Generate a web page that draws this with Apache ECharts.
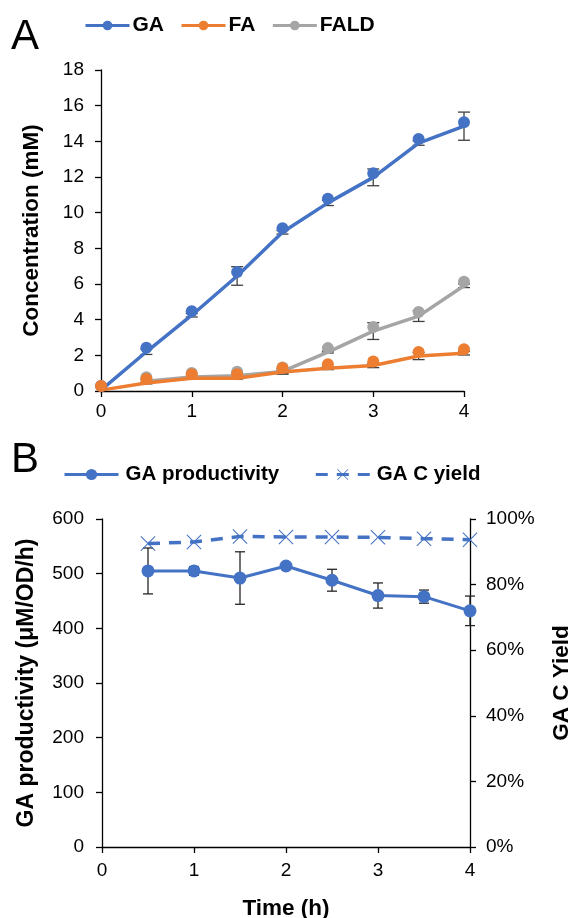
<!DOCTYPE html>
<html>
<head>
<meta charset="utf-8">
<script src="https://cdn.jsdelivr.net/npm/echarts@6/dist/echarts.min.js"></script>
<style>html,body{margin:0;padding:0;background:#fff;}#c{width:571px;height:918px;}</style>
</head>
<body>
<div id="c"></div>
<script>
// Panel A data
const timeA = [0, 0.5, 1, 1.5, 2, 2.5, 3, 3.5, 4];
const gaMean = [0.05, 2.2, 4.25, 6.45, 8.9, 10.55, 11.98, 13.9, 14.85];
const gaErr = [0, 0.15, 0.1, 0.52, 0.1, 0.15, 0.47, 0.12, 0.79];
const faMean = [0.05, 0.45, 0.72, 0.72, 1.06, 1.28, 1.43, 1.96, 2.12];
const faErr = [0, 0.05, 0.05, 0.05, 0.1, 0.08, 0.12, 0.2, 0.1];
const faldMean = [null, 0.55, 0.78, 0.85, 1.1, 2.18, 3.36, 4.2, 5.9];
const faldErr = [0, 0.1, 0.05, 0.15, 0.15, 0.05, 0.47, 0.3, 0.1];
// Panel B data
const timeB = [0.5, 1, 1.5, 2, 2.5, 3, 3.5, 4];
const prodB = [505, 505, 492, 514, 488, 460, 458, 432];
const prodErrB = [42, 8, 48, 6, 20, 23, 12, 27];
const yieldB = [0.925, 0.93, 0.947, 0.945, 0.945, 0.944, 0.94, 0.937];
const ticksA_y = [0, 18, 2];
const ticksB_left = [0, 600, 100];
const ticksB_right = [0, 1, 0.2];

const FONT = "'Liberation Sans', Arial, sans-serif";
const BLUE = '#4472C4', ORANGE = '#ED7D31', GRAY = '#A5A5A5';

function pairs(xs, ys) { return xs.map((x, i) => [x, ys[i]]); }
function errData(xs, m, e) {
  const out = [];
  xs.forEach((x, i) => { if (m[i] != null && e[i] > 0) out.push([x, m[i] - e[i], m[i] + e[i]]); });
  return out;
}
function errSeries(data, xi, yi, color, capW) {
  return {
    type: 'custom', xAxisIndex: xi, yAxisIndex: yi, z: 1, silent: true,
    encode: { x: 0, y: [1, 2] },
    data: data,
    renderItem: function (params, api) {
      const x = api.value(0), lo = api.value(1), hi = api.value(2);
      const p1 = api.coord([x, hi]), p2 = api.coord([x, lo]);
      const st = { stroke: color, lineWidth: 1.3 };
      return {
        type: 'group', children: [
          { type: 'line', shape: { x1: p1[0], y1: p1[1], x2: p2[0], y2: p2[1] }, style: st },
          { type: 'line', shape: { x1: p1[0] - capW, y1: p1[1], x2: p1[0] + capW, y2: p1[1] }, style: st },
          { type: 'line', shape: { x1: p2[0] - capW, y1: p2[1], x2: p2[0] + capW, y2: p2[1] }, style: st }
        ]
      };
    }
  };
}

const axisLine = { show: true, lineStyle: { color: '#000', width: 1.3 } };
const axisTick = { show: true, length: 6, inside: false, lineStyle: { color: '#000', width: 1.3 } };
const labelStyle = { color: '#000', fontFamily: FONT, fontSize: 19 };
const nameStyleA = { color: '#000', fontFamily: FONT, fontSize: 22.5, fontWeight: 'bold' };
const nameStyleB = { color: '#000', fontFamily: FONT, fontSize: 23, fontWeight: 'bold' };

const X_PATH = 'path://M0,1L1,0L10,9L19,0L20,1L11,10L20,19L19,20L10,11L1,20L0,19L9,10Z';

const option = {
  animation: false,
  backgroundColor: '#fff',
  graphic: [
    { type: 'text', left: 11, top: 16, style: { text: 'A', fontFamily: FONT, fontSize: 42, fill: '#000' } },
    { type: 'text', left: 11, top: 439, style: { text: 'B', fontFamily: FONT, fontSize: 42, fill: '#000' } }
  ],
  legend: [
    {
      left: 79, top: 10, itemWidth: 44, itemHeight: 12, itemGap: 16,
      lineStyle: { width: 3 },
      textStyle: { color: '#000', fontFamily: FONT, fontSize: 21, fontWeight: 'bold', padding: [0, 0, 0, -2] },
      data: ['GA', 'FA', 'FALD']
    },
    {
      left: 58, top: 459, itemWidth: 54, itemHeight: 14, itemGap: 35,
      lineStyle: { width: 3 },
      textStyle: { color: '#000', fontFamily: FONT, fontSize: 20.5, fontWeight: 'bold', padding: [0, 0, 0, 2] },
      data: ['GA productivity', 'GA C yield']
    }
  ],
  grid: [
    { left: 101, top: 70, width: 363, height: 321, containLabel: false, outerBoundsMode: 'none' },
    { left: 102, top: 519, width: 368, height: 328, containLabel: false, outerBoundsMode: 'none' }
  ],
  xAxis: [
    {
      type: 'value', gridIndex: 0, min: 0, max: 4, interval: 1,
      axisLine: axisLine, axisTick: axisTick, splitLine: { show: false },
      axisLabel: Object.assign({ margin: 11 }, labelStyle)
    },
    {
      type: 'value', gridIndex: 1, min: 0, max: 4, interval: 1,
      axisLine: axisLine, axisTick: axisTick, splitLine: { show: false },
      axisLabel: Object.assign({ margin: 14 }, labelStyle),
      name: 'Time (h)', nameLocation: 'middle', nameGap: 50, nameTextStyle: nameStyleA
    }
  ],
  yAxis: [
    {
      type: 'value', gridIndex: 0, min: ticksA_y[0], max: ticksA_y[1], interval: ticksA_y[2],
      axisLine: axisLine, axisTick: axisTick, splitLine: { show: false },
      axisLabel: Object.assign({ margin: 17 }, labelStyle),
      name: 'Concentration (mM)', nameLocation: 'middle', nameGap: 58, nameTextStyle: nameStyleA
    },
    {
      type: 'value', gridIndex: 1, min: ticksB_left[0], max: ticksB_left[1], interval: ticksB_left[2],
      axisLine: axisLine, axisTick: axisTick, splitLine: { show: false },
      axisLabel: Object.assign({ margin: 18 }, labelStyle),
      name: 'GA productivity (μM/OD/h)', nameLocation: 'middle', nameGap: 64, nameTextStyle: nameStyleB
    },
    {
      type: 'value', gridIndex: 1, position: 'right', min: ticksB_right[0], max: ticksB_right[1], interval: ticksB_right[2],
      axisLine: axisLine, axisTick: axisTick, splitLine: { show: false },
      axisLabel: Object.assign({ margin: 16, formatter: v => Math.round(v * 100) + '%' }, labelStyle),
      name: 'GA C Yield', nameLocation: 'middle', nameGap: 80, nameRotate: 90, nameTextStyle: nameStyleA
    }
  ],
  series: [
    errSeries(errData(timeA, gaMean, gaErr), 0, 0, '#404040', 6),
    errSeries(errData(timeA, faMean, faErr), 0, 0, '#404040', 6),
    errSeries(errData(timeA, faldMean, faldErr), 0, 0, '#404040', 6),
    {
      name: 'GA', type: 'line', xAxisIndex: 0, yAxisIndex: 0, z: 2,
      data: pairs(timeA, gaMean), symbol: 'circle', symbolSize: 12, symbolOffset: [0, -4],
      lineStyle: { color: BLUE, width: 3.5 }, itemStyle: { color: BLUE }
    },
    {
      name: 'FALD', type: 'line', xAxisIndex: 0, yAxisIndex: 0, z: 2,
      data: pairs(timeA, faldMean), symbol: 'circle', symbolSize: 12, symbolOffset: [0, -4],
      lineStyle: { color: GRAY, width: 3.5 }, itemStyle: { color: GRAY }
    },
    {
      name: 'FA', type: 'line', xAxisIndex: 0, yAxisIndex: 0, z: 2,
      data: pairs(timeA, faMean), symbol: 'circle', symbolSize: 12, symbolOffset: [0, -4],
      lineStyle: { color: ORANGE, width: 3.5 }, itemStyle: { color: ORANGE }
    },
    errSeries(errData(timeB, prodB, prodErrB), 1, 1, '#262626', 5),
    {
      name: 'GA productivity', type: 'line', xAxisIndex: 1, yAxisIndex: 1, z: 2,
      data: pairs(timeB, prodB), symbol: 'circle', symbolSize: 13,
      lineStyle: { color: BLUE, width: 3 }, itemStyle: { color: BLUE }
    },
    {
      name: 'GA C yield', type: 'line', xAxisIndex: 1, yAxisIndex: 2, z: 2,
      data: pairs(timeB, yieldB), symbol: X_PATH, symbolSize: 15,
      lineStyle: { color: BLUE, width: 3.5, type: [12, 9] }, itemStyle: { color: BLUE }
    }
  ]
};

const chart = echarts.init(document.getElementById('c'), null, { renderer: 'canvas' });
chart.setOption(option);
</script>
</body>
</html>
